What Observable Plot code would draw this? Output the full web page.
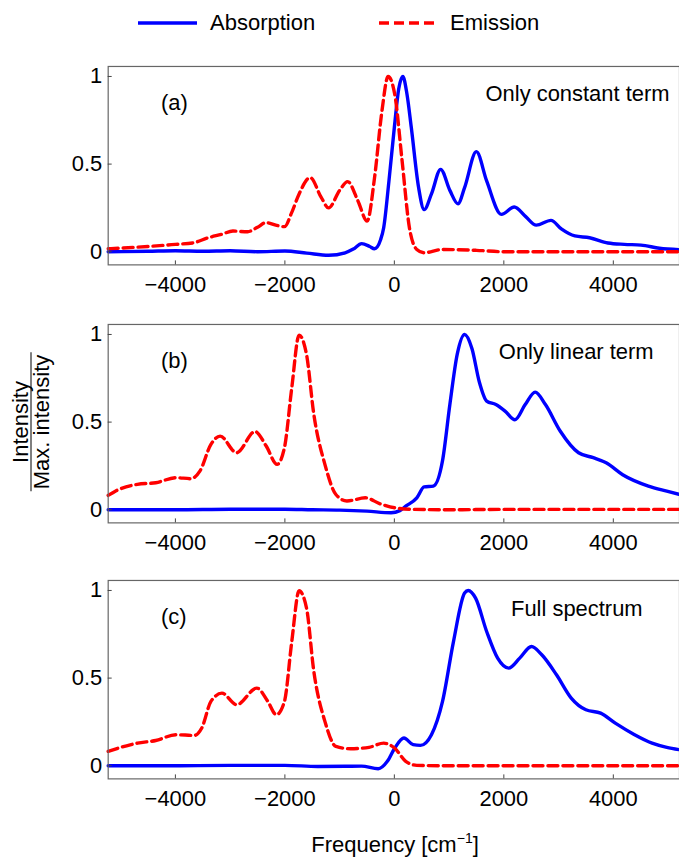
<!DOCTYPE html>
<html>
<head>
<meta charset="utf-8">
<script src="https://cdn.jsdelivr.net/npm/d3@7"></script>
<script src="https://cdn.jsdelivr.net/npm/@observablehq/plot@0.6"></script>
<style>
  html, body { margin: 0; padding: 0; background: #fff; }
  #wrap { position: relative; width: 679px; height: 861px; overflow: hidden; font-family: "Liberation Sans", Arial, sans-serif; color: #000; }
  .abs { position: absolute; }
  .lg { position: absolute; font-size: 22px; line-height: 22px; }
  .panel { position: absolute; left: 0; }
  #ylab { position: absolute; left: 31px; top: 422px; transform: translate(-50%, -50%) rotate(-90deg); font-size: 22px; text-align: center; white-space: nowrap; }
  #ylab div { line-height: 20px; padding: 0 2px; }
  #ylab .num { border-bottom: 1.3px solid #000; }
  #xlab { position: absolute; left: 395px; top: 832px; transform: translateX(-50%); font-size: 22px; white-space: nowrap; }
  #xlab sup { font-size: 14px; vertical-align: 9px; line-height: 0; }
</style>
</head>
<body>
<div id="wrap"></div>
<script>
// ---------- data ----------
const seriesNames = ["Absorption", "Emission"];
const xTicks = [-4000, -2000, 0, 2000, 4000];
const yTicks = [0, 0.5, 1];
const panelTags = ["(a)", "(b)", "(c)"];
const panelTitles = ["Only constant term", "Only linear term", "Full spectrum"];

// Panel (a)
const absAx = [-5228, -4500, -4000, -3500, -3000, -2500, -2000, -1600, -1200, -900, -750, -598, -450, -363, -250, -195, -100, 0, 80, 155, 230, 309, 443, 544, 678, 846, 1014, 1162, 1283, 1498, 1686, 1955, 2190, 2400, 2592, 2861, 3050, 3298, 3566, 3902, 4200, 4507, 4843, 5200];
const absAy = [0.0, 0.003, 0.006, 0.003, 0.006, 0.0, 0.004, -0.008, -0.02, -0.006, 0.015, 0.046, 0.03, 0.017, 0.07, 0.137, 0.40, 0.71, 0.93, 1.0, 0.9, 0.71, 0.366, 0.24, 0.33, 0.47, 0.35, 0.274, 0.366, 0.571, 0.404, 0.213, 0.255, 0.2, 0.152, 0.179, 0.13, 0.09, 0.08, 0.05, 0.042, 0.038, 0.02, 0.012];
const emiAx = [-5228, -4500, -4000, -3687, -3400, -3150, -2948, -2680, -2500, -2344, -2150, -2008, -1880, -1740, -1538, -1336, -1202, -1000, -853, -665, -497, -363, -228, -114, 6, 141, 275, 410, 544, 880, 1500, 2022, 3000, 4000, 5200];
const emiAy = [0.017, 0.03, 0.042, 0.05, 0.08, 0.10, 0.118, 0.114, 0.14, 0.166, 0.15, 0.143, 0.22, 0.33, 0.423, 0.31, 0.25, 0.35, 0.40, 0.29, 0.175, 0.42, 0.80, 1.0, 0.9, 0.52, 0.137, 0.013, -0.006, 0.013, 0.008, 0.0, 0.0, 0.0, 0.0];

// Panel (b)
const absBx = [-5228, -4000, -3000, -2000, -1500, -1000, -500, -60, 100, 208, 410, 544, 712, 880, 1014, 1148, 1283, 1417, 1551, 1686, 1854, 2022, 2203, 2391, 2572, 2760, 3029, 3365, 3634, 3869, 4171, 4641, 4977, 5200];
const absBy = [0, 0, 0.003, 0.003, 0, -0.002, -0.008, -0.017, -0.005, 0.02, 0.068, 0.13, 0.135, 0.28, 0.6, 0.886, 1.0, 0.92, 0.73, 0.62, 0.60, 0.563, 0.513, 0.60, 0.671, 0.60, 0.449, 0.325, 0.297, 0.268, 0.2, 0.135, 0.106, 0.088];
const emiBx = [-5228, -5097, -4694, -4359, -3989, -3721, -3553, -3351, -3183, -2881, -2545, -2344, -2142, -2008, -1874, -1740, -1605, -1471, -1269, -1068, -866, -530, -262, 6, 343, 1000, 2000, 3000, 4000, 5200];
const emiBy = [0.082, 0.106, 0.145, 0.154, 0.183, 0.177, 0.22, 0.373, 0.42, 0.325, 0.446, 0.365, 0.259, 0.354, 0.696, 0.996, 0.886, 0.544, 0.259, 0.087, 0.05, 0.068, 0.034, 0.011, 0.002, 0.0, 0.002, 0.002, 0.002, 0.002];

// Panel (c)
const absCx = [-5228, -4000, -3000, -2000, -1400, -900, -600, -295, -128, 6, 175, 343, 477, 678, 880, 1081, 1283, 1350, 1484, 1686, 1887, 2089, 2290, 2505, 2693, 2962, 3231, 3499, 3768, 4036, 4372, 4708, 4977, 5200];
const absCy = [0, 0, 0.002, 0.002, -0.004, -0.003, -0.002, -0.017, 0.025, 0.1, 0.158, 0.12, 0.116, 0.177, 0.367, 0.71, 0.985, 1.0, 0.956, 0.766, 0.614, 0.557, 0.614, 0.68, 0.633, 0.519, 0.386, 0.319, 0.3, 0.243, 0.18, 0.129, 0.105, 0.092];
const emiCx = [-5228, -4694, -4359, -3989, -3653, -3519, -3351, -3150, -2881, -2512, -2311, -2156, -2008, -1874, -1740, -1605, -1471, -1269, -1068, -799, -463, -194, 6, 208, 410, 1000, 2000, 3000, 4000, 5200];
const emiCy = [0.082, 0.129, 0.144, 0.177, 0.173, 0.215, 0.367, 0.414, 0.348, 0.443, 0.367, 0.291, 0.367, 0.709, 0.998, 0.9, 0.538, 0.253, 0.110, 0.097, 0.105, 0.129, 0.1, 0.025, 0.002, 0.0, 0.0, 0.0, 0.0, 0.0];

// ---------- build ----------
const BLUE = "#0000ff", RED = "#ff0000";
const toRows = (xs, ys) => xs.map((x, i) => ({x, y: ys[i]}));
const panels = [
  {abs: toRows(absAx, absAy), emi: toRows(emiAx, emiAy), tag: panelTags[0], title: panelTitles[0], top: 56, titleDx: -10, titleDy: 28},
  {abs: toRows(absBx, absBy), emi: toRows(emiBx, emiBy), tag: panelTags[1], title: panelTitles[1], top: 314, titleDx: -26, titleDy: 28},
  {abs: toRows(absCx, absCy), emi: toRows(emiCx, emiCy), tag: panelTags[2], title: panelTitles[2], top: 570, titleDx: -37, titleDy: 28.5}
];

const wrap = document.getElementById("wrap");
const fmtX = d => (d < 0 ? "\u2212" + Math.abs(d) : String(d));
const fmtY = d => String(d);

for (const p of panels) {
  const chart = Plot.plot({
    width: 681,
    height: 254,
    marginLeft: 108,
    marginRight: 0,
    marginTop: 10,
    marginBottom: 45,
    style: {fontFamily: "Liberation Sans, Arial, sans-serif", fontSize: "22px", color: "#000", background: "transparent", overflow: "visible"},
    x: {domain: [-5228, 5209]},
    y: {domain: [-0.075, 1.057]},
    marks: [
      Plot.line(p.abs, {x: "x", y: "y", stroke: BLUE, strokeWidth: 3.4, curve: "monotone-x"}),
      Plot.line(p.emi, {x: "x", y: "y", stroke: RED, strokeWidth: 3.4, strokeDasharray: "10,5", curve: "monotone-x"}),
      Plot.frame({stroke: "#666", strokeWidth: 1.2}),
      Plot.axisX({ticks: xTicks, tickSize: 0, tickPadding: 12, tickFormat: fmtX, fontSize: 22, label: null}),
      Plot.axisX({ticks: xTicks, tickSize: 4, dy: -4, tickFormat: () => "", stroke: "#444", label: null}),
      Plot.axisY({ticks: yTicks, tickSize: 0, tickPadding: 6, tickFormat: fmtY, fontSize: 22, label: null}),
      Plot.axisY({ticks: yTicks, tickSize: 4, dx: 4, tickFormat: () => "", stroke: "#444", label: null}),
      Plot.text([p.tag], {frameAnchor: "top-left", dx: 53, dy: 37, textAnchor: "start", lineAnchor: "middle", fontSize: 22}),
      Plot.text([p.title], {frameAnchor: "top-right", dx: p.titleDx, dy: p.titleDy, textAnchor: "end", lineAnchor: "middle", fontSize: 22})
    ]
  });
  chart.classList.add("panel");
  chart.style.top = p.top + "px";
  chart.style.left = "0px";
  chart.style.position = "absolute";
  wrap.appendChild(chart);
}

// legend
const lg = document.createElement("div");
lg.innerHTML = `
  <svg class="abs" style="left:0;top:0" width="679" height="50">
    <line x1="138" x2="197" y1="23" y2="23" stroke="${BLUE}" stroke-width="3.4"/>
    <line x1="379" x2="436" y1="23" y2="23" stroke="${RED}" stroke-width="3.4" stroke-dasharray="10,5"/>
  </svg>
  <div class="lg" style="left:210px;top:12px">${seriesNames[0]}</div>
  <div class="lg" style="left:450px;top:12px">${seriesNames[1]}</div>`;
wrap.appendChild(lg);

// axis titles
const yl = document.createElement("div");
yl.id = "ylab";
yl.innerHTML = `<div class="num">Intensity</div><div>Max. intensity</div>`;
wrap.appendChild(yl);

const xl = document.createElement("div");
xl.id = "xlab";
xl.innerHTML = `Frequency [cm<sup>\u22121</sup>]`;
wrap.appendChild(xl);
</script>
</body>
</html>
